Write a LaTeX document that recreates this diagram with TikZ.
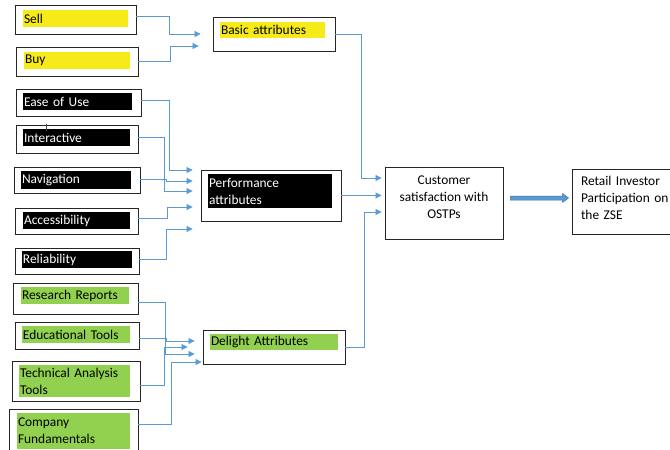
\documentclass[tikz,border=0pt]{standalone}
\usepackage{fontspec}
\setmainfont{Carlito}
\usetikzlibrary{arrows.meta,calc}
\definecolor{conncol}{HTML}{5B9BD5}
\definecolor{fatedge}{HTML}{41719C}
\definecolor{hlyellow}{HTML}{F7EA19}
\definecolor{hlgreen}{HTML}{92D050}
\tikzset{
  box/.style={draw=black!85, line width=0.9pt, inner sep=0pt},
  hl/.style={inner xsep=1pt, inner ysep=0pt, align=left, font=\fontsize{13.4}{17}\selectfont},
  txt/.style={font=\fontsize{13.4}{17}\selectfont},
  conn/.style={draw=conncol, line width=0.85pt, -{Triangle[length=6pt,width=6pt]}},
}
\begin{document}
\begin{tikzpicture}[x=1pt,y=-1pt]
\useasboundingbox (0,0) rectangle (670,450);
\clip (0,0) rectangle (670,450);
\fill[white] (0,0) rectangle (670,450);

% basic group
\node[box, minimum width=121pt, minimum height=29pt] (sell) at (75.5,19.5) {};
\node[hl, fill=hlyellow, text width=103pt, minimum height=17pt] (sellt) at (75.5,18.5) {Sell};
\node[box, minimum width=122pt, minimum height=29pt] (buy) at (77,61.5) {};
\node[hl, fill=hlyellow, text width=104pt, minimum height=17pt] (buyt) at (77,60.5) {Buy};
\node[box, minimum width=122pt, minimum height=34pt] (basic) at (274,34) {};
\node[hl, fill=hlyellow, text width=103pt, minimum height=16pt] (basict) at (272.5,30) {Basic attributes};

% performance group
\node[box, minimum width=125pt, minimum height=27pt] (ease) at (78.5,102.5) {};
\node[hl, fill=black, text=white, text width=107pt, minimum height=17pt] (easet) at (77.5,101.5) {Ease of Use};
\node[box, minimum width=122pt, minimum height=28pt] (inter) at (77,139) {};
\node[hl, fill=black, text=white, text width=105pt, minimum height=17pt] (intert) at (76.5,137.5) {Interactive};
\draw[black!70, line width=0.6pt] ([xshift=31pt,yshift=1pt]inter.north west) -- ++(0,7);
\node[box, minimum width=126pt, minimum height=26pt] (nav) at (77,180) {};
\node[hl, fill=black, text=white, text width=108pt, minimum height=18pt] (navt) at (76,180) {Navigation};
\node[box, minimum width=123pt, minimum height=26pt] (acc) at (76.5,221) {};
\node[hl, fill=black, text=white, text width=105pt, minimum height=17pt] (acct) at (76.5,220.5) {Accessibility};
\node[box, minimum width=124pt, minimum height=26pt] (rel) at (77,261) {};
\node[hl, fill=black, text=white, text width=108pt, minimum height=17pt] (relt) at (77,259.5) {Reliability};
\node[box, minimum width=140pt, minimum height=51pt] (perf) at (271,195.5) {};
\node[hl, fill=black, text=white, text width=122pt, minimum height=34pt] (perft) at (270,191) {Performance\\attributes};

% delight group
\node[box, minimum width=125pt, minimum height=31pt] (res) at (75.5,298.5) {};
\node[hl, fill=hlgreen, text width=106pt, minimum height=17pt] (rest) at (75,295.5) {Research Reports};
\node[box, minimum width=124pt, minimum height=27pt] (edu) at (77,335.5) {};
\node[hl, fill=hlgreen, text width=106pt, minimum height=17pt] (edut) at (76,334.5) {Educational Tools};
\node[box, minimum width=128pt, minimum height=40pt] (tech) at (76,381) {};
\node[hl, fill=hlgreen, text width=109pt, minimum height=32pt] (techt) at (74.5,381) {Technical Analysis\\Tools};
\node[box, minimum width=129pt, minimum height=46pt] (comp) at (73.5,432) {};
\node[hl, fill=hlgreen, text width=111pt, minimum height=36pt] (compt) at (73.5,431) {Company\\Fundamentals};
\node[box, minimum width=142pt, minimum height=34pt] (delight) at (274,347) {};
\node[hl, fill=hlgreen, text width=126pt, minimum height=16pt] (delightt) at (274,342) {Delight Attributes};

% outcome boxes
\node[box, txt, align=center, minimum width=118pt, minimum height=72pt] (cust) at (444,203)
  {\raisebox{5pt}[\height][\depth]{\begin{tabular}{@{}c@{}}Customer\\satisfaction with\\OSTPs\end{tabular}}};
\node[box, txt, align=left, minimum width=104pt, minimum height=65pt, inner xsep=9pt, text width=86pt] (retail) at (624,201.5)
  {\raisebox{2pt}[\height][\depth]{\begin{tabular}{@{}l@{}}Retail Investor\\Participation on\\the ZSE\end{tabular}}};

% connectors: basic
\draw[conn] ([yshift=3pt]sell.east) -| ([xshift=-43pt]basic.west) -- ([xshift=-12pt]basic.west);
\draw[conn] (buy.east) -| ([xshift=-42pt,yshift=-12pt]basic.west) -- ([xshift=-14pt,yshift=-12pt]basic.west);

% connectors: performance
\draw[conn] ([yshift=2pt]ease.east) -| ([xshift=-31pt,yshift=25.5pt]perf.west) -- ([xshift=-8pt,yshift=25.5pt]perf.west);
\draw[conn] ([yshift=2pt]inter.east) -| ([xshift=-36pt,yshift=4.5pt]perf.west) -- ([xshift=-8pt,yshift=4.5pt]perf.west);
\draw[conn] ([yshift=1pt]nav.east) -| ([xshift=-34pt,yshift=14.5pt]perf.west) -- ([xshift=-8pt,yshift=14.5pt]perf.west);
\draw[conn] ([yshift=3pt]acc.east) -| ([xshift=-33pt,yshift=-11.5pt]perf.west) -- ([xshift=-8pt,yshift=-11.5pt]perf.west);
\draw[conn] ([yshift=2pt]rel.east) -| ([xshift=-34pt,yshift=-33.5pt]perf.west) -- ([xshift=-8pt,yshift=-33.5pt]perf.west);

% connectors: delight
\draw[conn] ([yshift=-3.5pt]res.east) -| ([xshift=-37pt,yshift=-7pt]delight.west) -- ([xshift=-8pt,yshift=-7pt]delight.west);
\draw[conn] ([yshift=-2.5pt]edu.east) -| ([xshift=-36pt,yshift=6pt]delight.west) -- ([xshift=-8pt,yshift=6pt]delight.west);
\draw[conn] ([yshift=-4pt]tech.east) -| ([xshift=-38pt]delight.west) -- ([xshift=-15pt]delight.west);
\draw[conn] ([yshift=8pt]comp.east) -| ([xshift=-31pt,yshift=-15pt]delight.west) -- ([xshift=-1pt,yshift=-15pt]delight.west);

% connectors to customer satisfaction
\draw[conn] (basic.east) -| ([xshift=-23pt,yshift=25pt]cust.west) -- ([xshift=-3pt,yshift=25pt]cust.west);
\draw[conn] (perf.east) -- ($(perf.east -| cust.west)+(-3,0)$);
\draw[conn] (delight.east) -| ([xshift=-20pt,yshift=-9pt]cust.west) -- ([xshift=-3pt,yshift=-9pt]cust.west);

% fat arrow
\coordinate (fa) at ($(cust.east)+(7,-5)$);
\coordinate (fb) at ($(retail.west)+(-3,-3.5)$);
\draw[fill=conncol, draw=fatedge, line width=0.5pt, line join=miter]
  ($(fa)+(0,-2)$) -- ($(fb)+(-6,-2)$) -- ($(fb)+(-6,-4.5)$) -- (fb) -- ($(fb)+(-6,4.5)$) -- ($(fb)+(-6,2)$) -- ($(fa)+(0,2)$) -- cycle;
\end{tikzpicture}
\end{document}
